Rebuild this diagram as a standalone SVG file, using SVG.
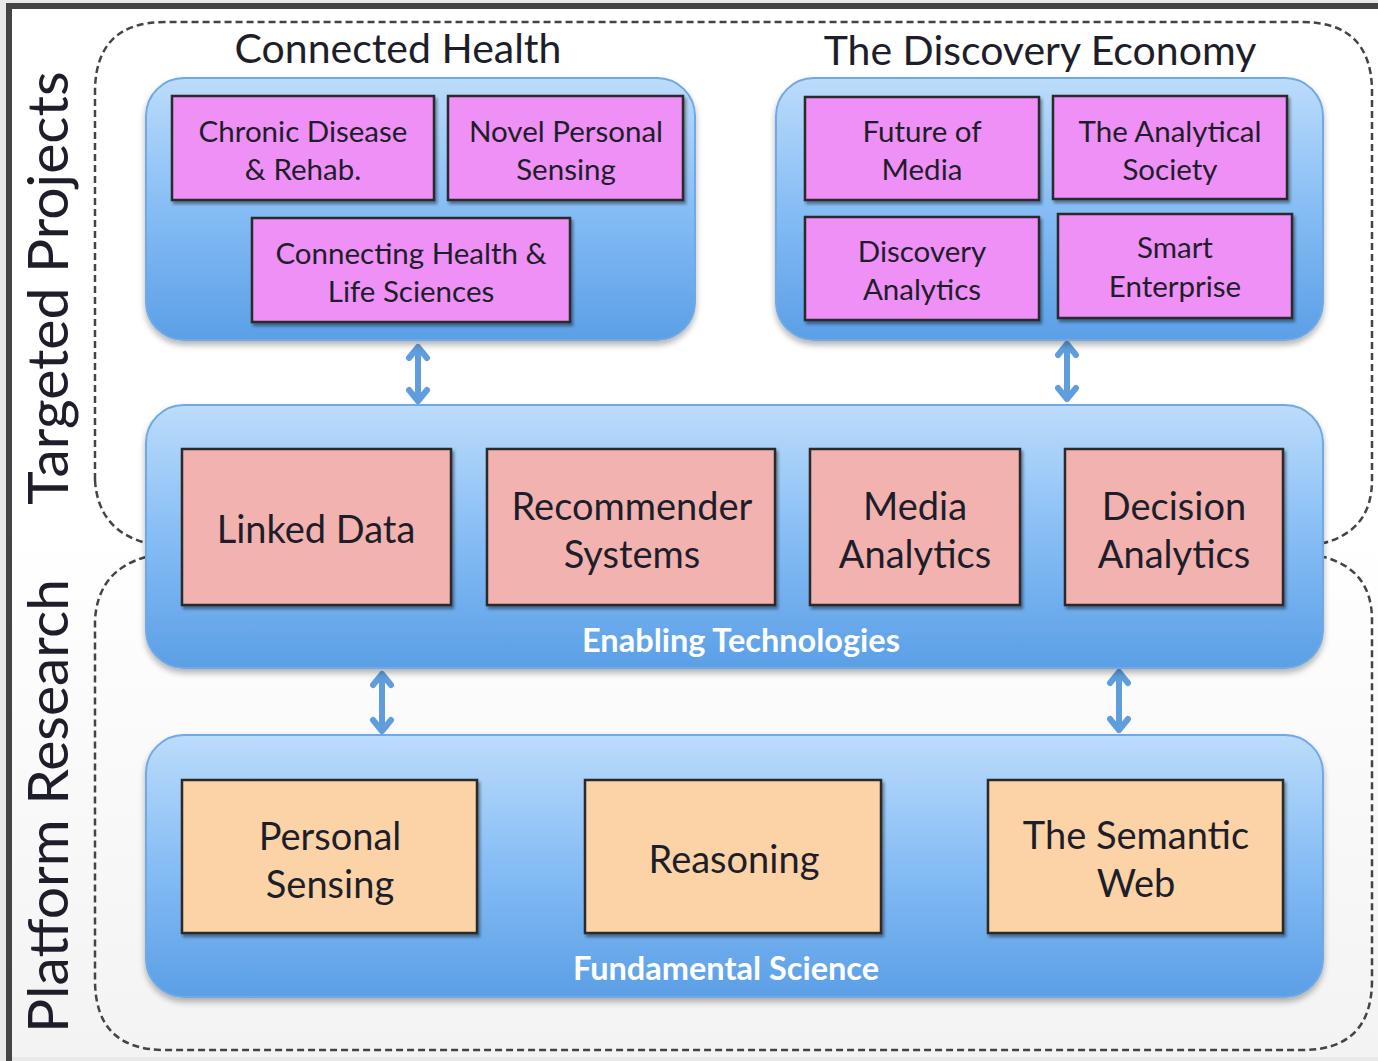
<svg xmlns="http://www.w3.org/2000/svg" width="1378" height="1061" viewBox="0 0 1378 1061">
<defs>
<linearGradient id="bg" x1="0" y1="0" x2="0" y2="1">
<stop offset="0" stop-color="#ffffff"/><stop offset="0.5" stop-color="#ffffff"/><stop offset="1" stop-color="#f3f3f3"/>
</linearGradient>
<linearGradient id="blue" x1="0" y1="0" x2="0" y2="1">
<stop offset="0" stop-color="#bcdcfb"/><stop offset="0.5" stop-color="#86bdf5"/><stop offset="1" stop-color="#5b9fe6"/>
</linearGradient>
<filter id="sh" x="-5%" y="-5%" width="110%" height="120%">
<feGaussianBlur in="SourceAlpha" stdDeviation="3"/>
<feOffset dx="0" dy="4" result="b"/>
<feComponentTransfer><feFuncA type="linear" slope="0.3"/></feComponentTransfer>
<feMerge><feMergeNode/><feMergeNode in="SourceGraphic"/></feMerge>
</filter>
<filter id="bsh" x="-5%" y="-5%" width="110%" height="120%">
<feGaussianBlur in="SourceAlpha" stdDeviation="1.5"/>
<feOffset dx="2" dy="3" result="b"/>
<feComponentTransfer><feFuncA type="linear" slope="0.4"/></feComponentTransfer>
<feMerge><feMergeNode/><feMergeNode in="SourceGraphic"/></feMerge>
</filter>
</defs>
<style>
.edge{fill:none;stroke:#444;stroke-width:6}
.dash{fill:none;stroke:#444;stroke-width:2.5;stroke-dasharray:7 4}
.cont{fill:url(#blue);stroke:#6fa9e3;stroke-width:2}
.pink{fill:#ef90f6;stroke:#2a2a2a;stroke-width:2.5}
.salmon{fill:#f2b3b0;stroke:#2a2a2a;stroke-width:2.5}
.peach{fill:#fcd3a6;stroke:#2a2a2a;stroke-width:2.5}
text{font-family:Lato,"Liberation Sans",sans-serif;fill:#1e1e2a;text-anchor:middle}
.t1{font-size:29.5px}
.t2{font-size:38px}
.head{font-size:41px}
.side{font-size:57px}
.lbl{font-size:32.5px;font-weight:bold;fill:#ffffff}
.arr{fill:none;stroke:#5f9ddc;stroke-width:6;stroke-linecap:round;stroke-linejoin:round}
</style>
<rect x="0" y="0" width="1378" height="1061" fill="#e9e9e9"/>
<rect x="12" y="9" width="1366" height="1048" fill="url(#bg)"/>
<path class="edge" d="M9,1061 L9,6 L1378,6"/>
<g id="regions">
<path class="dash" d="M95,480 L95,92 Q95,22 165,22 L1302,22 Q1372,22 1372,92 L1372,480 Q1372,530 1324,543"/>
<path class="dash" d="M95,480 Q98,530 146,543"/>
<path class="dash" d="M146,557 Q98,570 95,620 L95,980 Q95,1050 165,1050 L1302,1050 Q1372,1050 1372,980 L1372,620 Q1372,570 1324,557"/>
<text class="side" transform="translate(68,288) rotate(-90)">Targeted Projects</text>
<text class="side" transform="translate(68,806) rotate(-90)">Platform Research</text>
</g>
<g id="connectors">
<path class="arr" d="M418,347 L418,401 M409,358 L418,347 L427,358 M409,390 L418,401 L427,390"/>
<path class="arr" d="M1067,344 L1067,399 M1058,355 L1067,344 L1076,355 M1058,388 L1067,399 L1076,388"/>
<path class="arr" d="M382,674 L382,731 M373,685 L382,674 L391,685 M373,720 L382,731 L391,720"/>
<path class="arr" d="M1119,672 L1119,730 M1110,683 L1119,672 L1128,683 M1110,719 L1119,730 L1128,719"/>
</g>
<g id="connected-health">
<rect class="cont" x="146" y="78" width="549" height="262" rx="38" filter="url(#sh)"/>
<text class="head" x="398" y="63">Connected Health</text>
</g>
<g id="discovery-economy">
<rect class="cont" x="776" y="78" width="547" height="262" rx="38" filter="url(#sh)"/>
<text class="head" x="1040" y="65">The Discovery Economy</text>
</g>
<g id="enabling-technologies">
<rect class="cont" x="146" y="405" width="1177" height="263" rx="38" filter="url(#sh)"/>
<text class="lbl" x="741" y="652">Enabling Technologies</text>
</g>
<g id="fundamental-science">
<rect class="cont" x="146" y="735" width="1177" height="262" rx="38" filter="url(#sh)"/>
<text class="lbl" x="726" y="980">Fundamental Science</text>
</g>
<g id="chronic-disease">
<rect class="pink" x="172" y="96" width="262" height="104" filter="url(#bsh)"/>
<text class="t1" x="303" y="142">Chronic Disease</text><text class="t1" x="303" y="180">&amp; Rehab.</text>
</g>
<g id="novel-personal-sensing">
<rect class="pink" x="448" y="96" width="235" height="104" filter="url(#bsh)"/>
<text class="t1" x="566" y="142">Novel Personal</text><text class="t1" x="566" y="180">Sensing</text>
</g>
<g id="connecting-health">
<rect class="pink" x="252" y="218" width="318" height="104" filter="url(#bsh)"/>
<text class="t1" x="411" y="264">Connecting Health &amp;</text><text class="t1" x="411" y="302">Life Sciences</text>
</g>
<g id="future-of-media">
<rect class="pink" x="805" y="97" width="234" height="103" filter="url(#bsh)"/>
<text class="t1" x="922" y="142">Future of</text><text class="t1" x="922" y="180">Media</text>
</g>
<g id="analytical-society">
<rect class="pink" x="1053" y="96" width="234" height="103" filter="url(#bsh)"/>
<text class="t1" x="1170" y="142">The Analytical</text><text class="t1" x="1170" y="180">Society</text>
</g>
<g id="discovery-analytics">
<rect class="pink" x="805" y="217" width="234" height="103" filter="url(#bsh)"/>
<text class="t1" x="922" y="262">Discovery</text><text class="t1" x="922" y="300">Analytics</text>
</g>
<g id="smart-enterprise">
<rect class="pink" x="1058" y="214" width="234" height="104" filter="url(#bsh)"/>
<text class="t1" x="1175" y="258">Smart</text><text class="t1" x="1175" y="297">Enterprise</text>
</g>
<g id="linked-data">
<rect class="salmon" x="182" y="449" width="269" height="156" filter="url(#bsh)"/>
<text class="t2" x="316" y="543">Linked Data</text>
</g>
<g id="recommender-systems">
<rect class="salmon" x="487" y="449" width="288" height="156" filter="url(#bsh)"/>
<text class="t2" x="632" y="520">Recommender</text><text class="t2" x="632" y="568">Systems</text>
</g>
<g id="media-analytics">
<rect class="salmon" x="810" y="449" width="210" height="156" filter="url(#bsh)"/>
<text class="t2" x="915" y="520">Media</text><text class="t2" x="915" y="568">Analytics</text>
</g>
<g id="decision-analytics">
<rect class="salmon" x="1065" y="449" width="218" height="156" filter="url(#bsh)"/>
<text class="t2" x="1174" y="520">Decision</text><text class="t2" x="1174" y="568">Analytics</text>
</g>
<g id="personal-sensing">
<rect class="peach" x="182" y="780" width="295" height="153" filter="url(#bsh)"/>
<text class="t2" x="330" y="850">Personal</text><text class="t2" x="330" y="898">Sensing</text>
</g>
<g id="reasoning">
<rect class="peach" x="585" y="780" width="296" height="153" filter="url(#bsh)"/>
<text class="t2" x="734" y="873">Reasoning</text>
</g>
<g id="semantic-web">
<rect class="peach" x="988" y="780" width="295" height="153" filter="url(#bsh)"/>
<text class="t2" x="1136" y="849">The Semantic</text><text class="t2" x="1136" y="897">Web</text>
</g>
</svg>
